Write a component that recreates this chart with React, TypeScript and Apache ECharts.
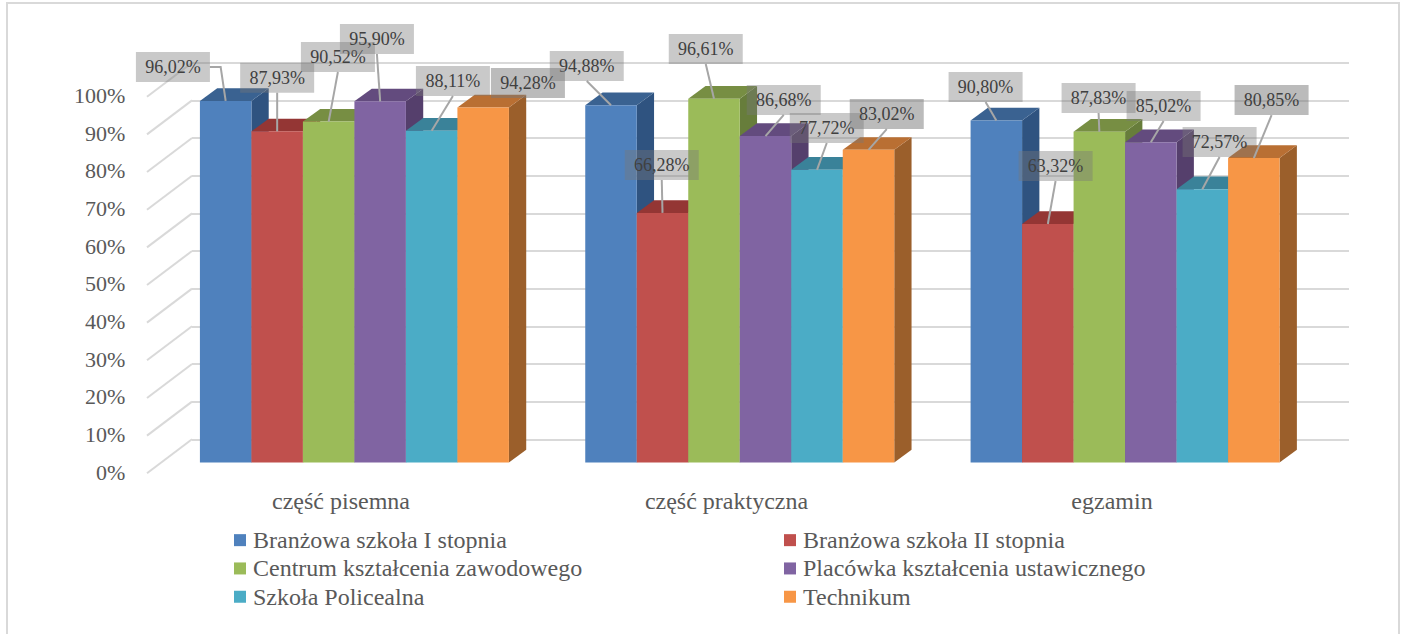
import React, { useEffect, useRef } from "react";
import * as echarts from "echarts";

const categories = ["część pisemna", "część praktyczna", "egzamin"];
const seriesNames = [
  "Branżowa szkoła I stopnia",
  "Branżowa szkoła II stopnia",
  "Centrum kształcenia zawodowego",
  "Placówka kształcenia ustawicznego",
  "Szkoła Policealna",
  "Technikum",
];
const branzowaI = [96.02, 94.88, 90.8];
const branzowaII = [87.93, 66.28, 63.32];
const centrum = [90.52, 96.61, 87.83];
const placowka = [95.9, 86.68, 85.02];
const policealna = [88.11, 77.72, 72.57];
const technikum = [94.28, 83.02, 80.85];
const seriesValues = [branzowaI, branzowaII, centrum, placowka, policealna, technikum];
const axisTicks = [0, 10, 20, 30, 40, 50, 60, 70, 80, 90, 100];

const frontColors = ["#4F81BD", "#C0504D", "#9BBB59", "#8064A2", "#4BACC6", "#F79646"];
const sideColors = ["#2F5380", "#8A3432", "#677D3B", "#553F6C", "#327F94", "#9B5F2B"];
const topColors = ["#3A6291", "#943634", "#778E43", "#634B7E", "#3A8299", "#B96F33"];

// Label box centre relative to the bar's front-top centre, and leader kind.
const labelOffsets: [number, number, string][][] = [
  [[-52.75, -33.9, "elbow"], [-24.25, -39.2, "line"], [-10.75, -33.5, "line"]],
  [[0, -53.6, "line"], [-0.75, -47.9, "line"], [7.75, -58, "line"]],
  [[9.25, -64.6, "line"], [-8.25, -49.7, "line"], [-0.75, -33.7, "line"]],
  [[-3.25, -62.3, "line"], [18.25, -36.1, "line"], [12.75, -36.3, "line"]],
  [[21.25, -49.7, "line"], [9.75, -41.8, "line"], [17.25, -47.2, "line"]],
  [[44.75, -24.4, "none"], [18.25, -35.8, "line"], [17.75, -58, "line"]],
];

const FONT = '"Liberation Serif"';
const GRID_LINE = "#D9D9D9";
const BAR_WIDTH = 51.5;
const DEPTH_X = 17.3;
const DEPTH_Y = 12.7;
const BOX_W = 74;
const BOX_H = 30;

const barX = (center: number, s: number) =>
  center - (BAR_WIDTH * seriesValues.length) / 2 + BAR_WIDTH * s;

const fmt = (v: number) => v.toFixed(2).replace(".", ",") + "%";

const renderBar = (s: number) => (_p: any, api: any) => {
  const cat = api.value(0);
  const v = api.value(1);
  const top = api.coord([cat, v]);
  const base = api.coord([cat, 0]);
  const x = barX(top[0], s);
  const w = BAR_WIDTH;
  return {
    type: "group",
    children: [
      {
        type: "polygon",
        shape: {
          points: [
            [x + w, top[1]],
            [x + w + DEPTH_X, top[1] - DEPTH_Y],
            [x + w + DEPTH_X, base[1] - DEPTH_Y],
            [x + w, base[1]],
          ],
        },
        style: { fill: sideColors[s] },
      },
      {
        type: "polygon",
        shape: {
          points: [
            [x, top[1]],
            [x + DEPTH_X, top[1] - DEPTH_Y],
            [x + w + DEPTH_X, top[1] - DEPTH_Y],
            [x + w, top[1]],
          ],
        },
        style: { fill: topColors[s] },
      },
      {
        type: "rect",
        shape: { x, y: top[1], width: w, height: base[1] - top[1] },
        style: { fill: frontColors[s] },
      },
    ],
  };
};

const renderLabel = (s: number) => (_p: any, api: any) => {
  const cat = api.value(0);
  const v = api.value(1);
  const top = api.coord([cat, v]);
  const ax = barX(top[0], s) + BAR_WIDTH / 2;
  const ay = top[1];
  const [dx, dy, kind] = labelOffsets[s][cat];
  const cx = ax + dx;
  const cy = ay + dy;
  const children: any[] = [];
  if (kind === "line") {
    children.push({
      type: "line",
      shape: { x1: cx, y1: cy + BOX_H / 2, x2: ax, y2: ay },
      style: { stroke: "#A6A6A6", lineWidth: 2 },
    });
  } else if (kind === "elbow") {
    children.push({
      type: "polyline",
      shape: { points: [[cx + BOX_W / 2, cy], [ax - 5, cy], [ax, ay]] },
      style: { stroke: "#A6A6A6", lineWidth: 2, fill: "none" },
    });
  }
  children.push({
    type: "rect",
    shape: { x: cx - BOX_W / 2, y: cy - BOX_H / 2, width: BOX_W, height: BOX_H },
    style: { fill: s === 5 ? "rgba(120,120,120,0.5)" : "rgba(120,120,120,0.4)" },
  });
  children.push({
    type: "text",
    style: {
      x: cx,
      y: cy,
      text: fmt(v),
      fill: "#404040",
      font: `18px ${FONT}`,
      align: "center",
      verticalAlign: "middle",
    },
  });
  return { type: "group", children };
};

const renderDiagonal = (p: any, api: any) => {
  const y = api.coord([0, api.value(0)])[1];
  const x = p.coordSys.x;
  return {
    type: "line",
    shape: { x1: x, y1: y, x2: x - 45, y2: y + 34 },
    style: { stroke: GRID_LINE, lineWidth: 2 },
  };
};

const hiddenCat = (gridIndex: number) => ({
  type: "category" as const,
  gridIndex,
  data: categories,
  axisLine: { show: false },
  axisTick: { show: false },
  axisLabel: { show: false },
  splitLine: { show: false },
});
const valueAxis = (gridIndex: number, extra: any) => ({
  type: "value" as const,
  gridIndex,
  min: 0,
  max: 100,
  interval: 10,
  axisLine: { show: false },
  axisTick: { show: false },
  axisLabel: { show: false },
  splitLine: { show: false },
  ...extra,
});

export default function App() {
  const ref = useRef<HTMLDivElement>(null);
  useEffect(() => {
    document.body.style.margin = "0";
    const chart = echarts.init(ref.current!, undefined, { renderer: "svg" });
    const legendBase = {
      orient: "vertical" as const,
      top: 521,
      icon: "rect",
      itemWidth: 12,
      itemHeight: 12,
      itemGap: 0,
      selectedMode: false,
      textStyle: {
        fontFamily: FONT,
        fontSize: 24,
        color: "#595959",
        lineHeight: 28.3,
        padding: [0, 0, 0, 2],
      },
    };
    chart.setOption({
      animation: false,
      backgroundColor: "#FFFFFF",
      grid: [
        { left: 161.75, right: 87.25, top: 85.9, height: 376.6 },
        { left: 192, right: 56, top: 62.7, height: 376.6 },
        { left: 148.25, right: 100.25, top: 95.5, height: 376.6 },
      ],
      xAxis: [
        hiddenCat(0),
        hiddenCat(1),
        {
          ...hiddenCat(2),
          axisLabel: {
            show: true,
            margin: 17,
            fontFamily: FONT,
            fontSize: 24,
            color: "#595959",
          },
        },
      ],
      yAxis: [
        valueAxis(0, {}),
        valueAxis(1, {
          splitLine: { show: true, lineStyle: { color: GRID_LINE, width: 2 } },
        }),
        valueAxis(2, {
          axisLabel: {
            show: true,
            margin: 23,
            fontFamily: FONT,
            fontSize: 22,
            color: "#595959",
            formatter: (v: number) => `${v}%`,
          },
        }),
      ],
      legend: [
        { ...legendBase, left: 229, data: [seriesNames[0], seriesNames[2], seriesNames[4]] },
        { ...legendBase, left: 779, data: [seriesNames[1], seriesNames[3], seriesNames[5]] },
      ],
      graphic: [
        {
          type: "rect",
          silent: true,
          z: -10,
          shape: { x: 7, y: 3, width: 1392, height: 700 },
          style: { fill: "none", stroke: GRID_LINE, lineWidth: 2 },
        },
      ],
      series: [
        {
          type: "custom",
          name: "siatka",
          xAxisIndex: 1,
          yAxisIndex: 1,
          z: 1,
          silent: true,
          data: axisTicks.map((t) => [t]),
          encode: { y: 0 },
          renderItem: renderDiagonal,
        },
        ...seriesNames.map((name, s) => ({
          type: "custom",
          name,
          xAxisIndex: 0,
          yAxisIndex: 0,
          z: 2 + s,
          itemStyle: { color: frontColors[s] },
          data: seriesValues[s].map((v, c) => [c, v]),
          encode: { x: 0, y: 1 },
          renderItem: renderBar(s),
        })),
        ...seriesNames.map((_name, s) => ({
          type: "custom",
          name: `etykiety ${s}`,
          xAxisIndex: 0,
          yAxisIndex: 0,
          z: 10 + s,
          silent: true,
          data: seriesValues[s].map((v, c) => [c, v]),
          encode: { x: 0, y: 1 },
          renderItem: renderLabel(s),
        })),
      ],
    });
    return () => chart.dispose();
  }, []);
  return <div ref={ref} style={{ width: 1405, height: 634 }} />;
}
